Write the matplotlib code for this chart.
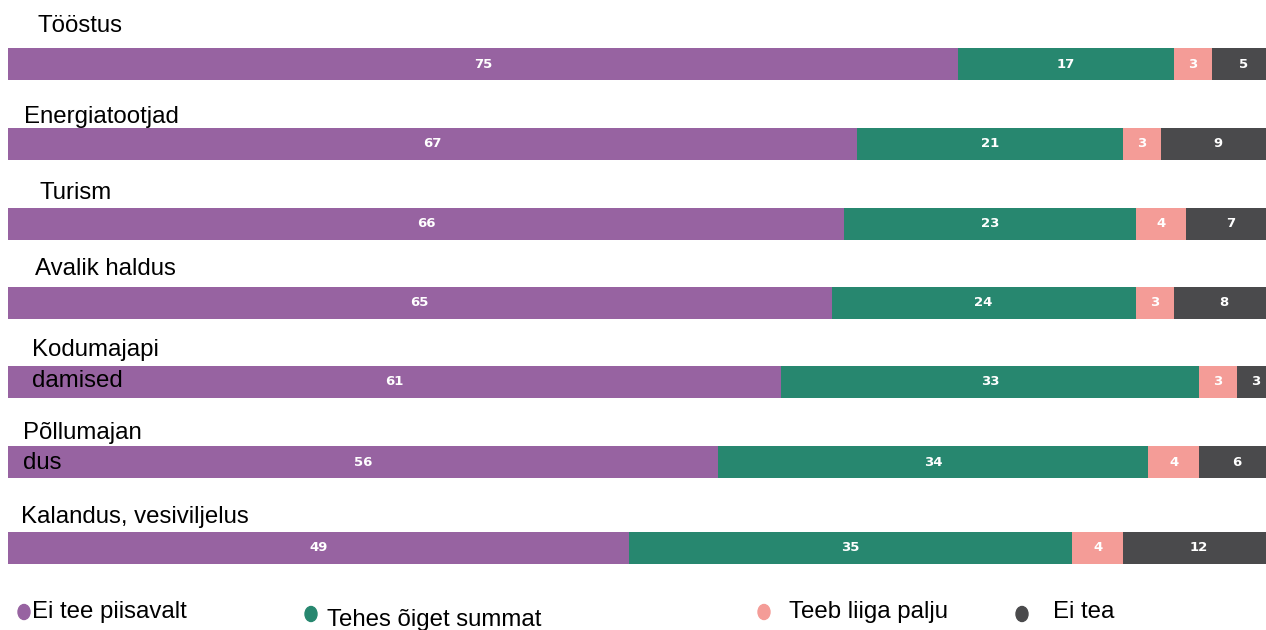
import matplotlib
matplotlib.use("Agg")
import matplotlib.pyplot as plt
import numpy as np

categories = ["Tööstus", "Energiatootjad", "Turism", "Avalik haldus",
              "Kodumajapi\ndamised", "Põllumajan\ndus", "Kalandus, vesiviljelus"]
ei_tee_piisavalt = [75, 67, 66, 65, 61, 56, 49]
tehes_oiget = [17, 21, 23, 24, 33, 34, 35]
teeb_liiga_palju = [3, 3, 4, 3, 3, 4, 4]
ei_tea = [5, 9, 7, 8, 3, 6, 12]
series_names = ["Ei tee piisavalt", "Tehes õiget summat", "Teeb liiga palju", "Ei tea"]
colors = ["#9763A1", "#27876F", "#F49C97", "#4A4A4C"]

# layout (pixel-like units)
W, H = 1266, 630
bar_centers = [64, 143.5, 223.5, 302.5, 381.5, 462, 547.5]
bar_h = 32
label_dx = [38, 24, 40, 35, 32, 23, 21]
label_y = [26, 117, 193, 269, 365.5, 448, 517]

plt.rcParams['font.family'] = ['Liberation Sans', 'DejaVu Sans']
fig = plt.figure(figsize=(W / 100, H / 100), dpi=100)
ax = fig.add_axes([8 / W, 0, (W - 8) / W, 1])
ax.set_ylim(H, 0)
ax.set_xlim(0, 100 * (W - 8) / (1275 - 8))
ax.axis("off")

series = [ei_tee_piisavalt, tehes_oiget, teeb_liiga_palju, ei_tea]
left = np.zeros(len(categories))
for vals, col in zip(series, colors):
    vals = np.array(vals, dtype=float)
    ax.barh(bar_centers, vals, left=left, height=bar_h, color=col, edgecolor="none")
    for yc, l, v in zip(bar_centers, left, vals):
        ax.text(l + v / 2, yc, f"{int(v)}", color="white", fontsize=9.5, fontweight="bold",
                ha="center", va="center", family="DejaVu Sans")
    left += vals

# category labels (figure pixel coords)
for cat, dx, ly in zip(categories, label_dx, label_y):
    fig.text(dx / W, 1 - ly / H, cat, fontsize=17.3, color="black",
             ha="left", va="center", linespacing=1.5)

# legend
leg_marker_x = [24, 311, 764, 1022]
leg_marker_y = [612, 614, 612, 614]
leg_text_x = [32, 327, 789, 1053]
leg_text_y = [612, 620, 612, 612]
for name, col, mx, my, tx, ty in zip(series_names, colors, leg_marker_x, leg_marker_y, leg_text_x, leg_text_y):
    fig.patches.append(matplotlib.patches.Ellipse((mx / W, 1 - my / H), 12 / W, 15 / H,
                                                  transform=fig.transFigure, color=col, zorder=1))
    fig.text(tx / W, 1 - ty / H, name, fontsize=17.3, color="black", ha="left", va="center", zorder=2)

fig.savefig("out.png", dpi=100)
